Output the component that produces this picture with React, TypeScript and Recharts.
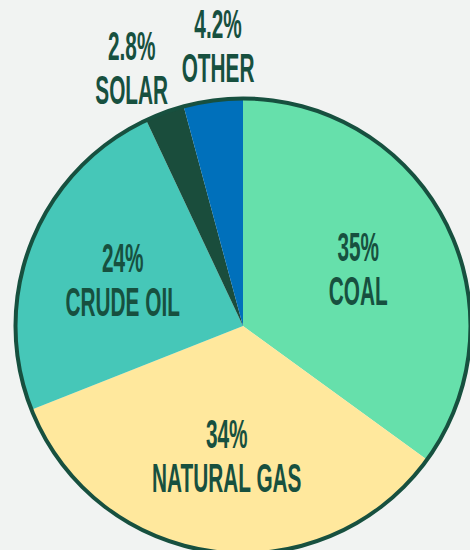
import { Pie, PieChart } from "recharts";

// Energy mix, clockwise from 12 o'clock.
const CATEGORIES = ["COAL", "NATURAL GAS", "CRUDE OIL", "SOLAR", "OTHER"];
const SHARES = [35, 34, 24, 2.8, 4.2];
const SHARE_LABELS = ["35%", "34%", "24%", "2.8%", "4.2%"];
const COLORS = ["#66E0AB", "#FFE89D", "#46C7B8", "#1A4D3C", "#0070BB"];

const INK = "#17503F";
const BG = "#F1F3F2";
const RADIAN = Math.PI / 180;

const data = CATEGORIES.map((name, i) => ({
  name,
  value: SHARES[i],
  fill: COLORS[i],
}));

// small slices get their label outside the pie, pushed apart a little so they don't collide
function renderLabel(props: any) {
  const { cx, cy, midAngle, outerRadius, index } = props;
  const outside = SHARES[index] < 5;
  const spread = outside ? (index === 3 ? 3 : -2.5) : 0;
  const r = outside ? outerRadius + 56 : outerRadius * 0.57;
  const a = (midAngle + spread) * RADIAN;
  const x = cx + r * Math.cos(-a);
  const y = cy + r * Math.sin(-a);
  return (
    <g key={`lbl-${index}`} transform={`translate(${x},${y}) scale(0.52,1)`}>
      <text
        textAnchor="middle"
        fill={INK}
        fontFamily="'Liberation Sans', Arial, sans-serif"
        fontWeight="bold"
        fontSize={40}
      >
        <tspan x={0} y={-6}>
          {SHARE_LABELS[index]}
        </tspan>
        <tspan x={0} y={38}>
          {CATEGORIES[index]}
        </tspan>
      </text>
    </g>
  );
}

export default function App() {
  return (
    <div
      style={{
        position: "fixed",
        left: 0,
        top: 0,
        width: 470,
        height: 550,
        background: BG,
        overflow: "hidden",
      }}
    >
      <PieChart width={470} height={550} margin={{ top: 0, right: 0, bottom: 0, left: 0 }}>
        <Pie
          data={data}
          dataKey="value"
          nameKey="name"
          cx={243}
          cy={326}
          outerRadius={227}
          startAngle={90}
          endAngle={-270}
          stroke="none"
          label={renderLabel}
          labelLine={false}
          isAnimationActive={false}
        />
        {/* outer border ring */}
        <Pie
          data={[{ name: "ring", value: 1, fill: INK }]}
          dataKey="value"
          cx={243}
          cy={326}
          innerRadius={225.5}
          outerRadius={229.5}
          startAngle={90}
          endAngle={-270}
          stroke="none"
          isAnimationActive={false}
        />
      </PieChart>
    </div>
  );
}
